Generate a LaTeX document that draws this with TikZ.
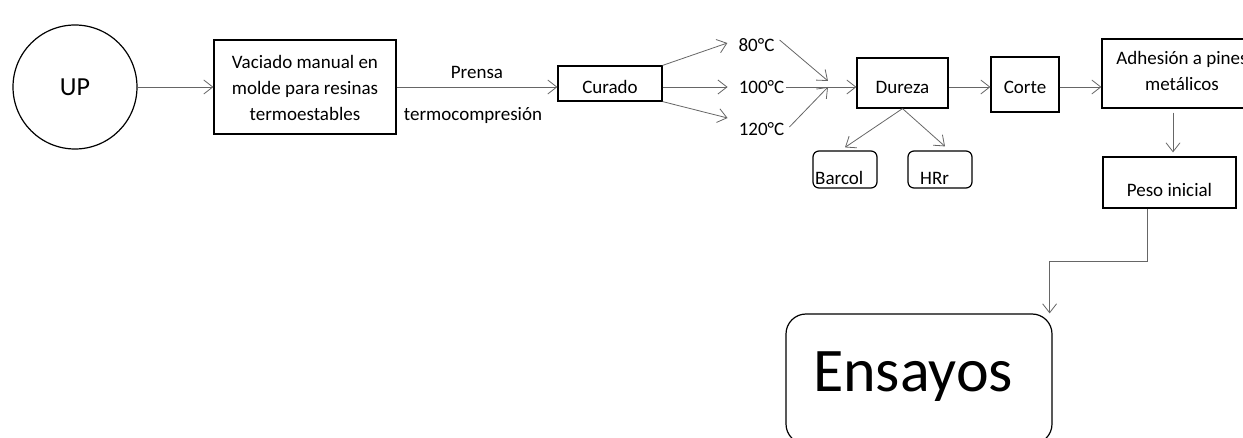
\documentclass[tikz,border=0pt]{standalone}
\usepackage{fontspec}
\setmainfont{Carlito}
\usetikzlibrary{arrows.meta}
\begin{document}
\begin{tikzpicture}[x=1pt,y=-1pt,
 box/.style={draw=black,line width=1.2pt,inner sep=0pt,font=\fontsize{19}{26}\selectfont,align=center},
 rbox/.style={box,rounded corners=6pt},
 lbl/.style={inner sep=0pt,font=\fontsize{19}{26}\selectfont,align=center},
 conn/.style={draw=black!60,line width=0.8pt,-{Straight Barb[length=9pt,width=14pt]}}]
\useasboundingbox (0,0) rectangle (1243,438);
\clip (0,0) rectangle (1243,438);
\node[circle,draw=black,line width=1.2pt,minimum size=124pt,inner sep=0pt,font=\fontsize{26}{30}\selectfont] (up) at (75,87) {UP};
\node[box,minimum width=182pt,minimum height=94pt] (vac) at (305,87) {};
\node[lbl] (vact) at (305,88) {Vaciado manual en\\molde para resinas\\termoestables};
\node[box,minimum width=104pt,minimum height=35pt] (cur) at (610,83.5) {};
\node[lbl] (curt) at (610,87) {Curado};
\node[lbl] (t80) at (756.5,45) {80°C};
\node[lbl] (t100) at (761.5,87) {100°C};
\node[lbl] (t120) at (761.5,129) {120°C};
\node[box,minimum width=91pt,minimum height=50pt] (dur) at (902.5,83) {};
\node[lbl] (durt) at (902.5,87) {Dureza};
\node[box,minimum width=68pt,minimum height=55pt] (cor) at (1025,84.5) {};
\node[lbl] (cort) at (1025,87) {Corte};
\node[box,minimum width=160pt,minimum height=69pt] (adh) at (1182,73.5) {};
\node[lbl] (adht) at (1182,71) {Adhesión a pines\\metálicos};
\node[box,minimum width=133pt,minimum height=51pt] (peso) at (1169.5,182.5) {};
\node[lbl] (pesot) at (1169.5,190) {Peso inicial};
\node[rbox,minimum width=64pt,minimum height=37pt] (bar) at (845,169.5) {};
\node[lbl,anchor=base west] (bart) at (815,185) {Barcol};
\node[rbox,minimum width=64pt,minimum height=37pt] (hrr) at (940,169.5) {};
\node[lbl,anchor=base west] (hrrt) at (920,185) {HRr};
\node[box,rounded corners=20pt,minimum width=266pt,minimum height=130pt] (ens) at (919,379) {};
\node[inner sep=0pt,font=\fontsize{62}{70}\selectfont] (enst) at (913,377) {Ensayos};
\node[lbl] (prensa) at (477,72) {Prensa};
\node[lbl] (termo) at (473,115) {termocompresión};
\coordinate (j1) at (828,81);
\coordinate (j2) at (828,87);
\draw[conn] (up.east) -- (vac.west);
\draw[conn] (vac.east) -- (vac.east -| cur.west);
\draw[conn] (cur.north east) -- ([xshift=-11pt,yshift=2pt]t80.west);
\draw[conn] (cur.east |- t100) -- ([xshift=-11pt]t100.west);
\draw[conn] (cur.south east) -- ([xshift=-11pt,yshift=11pt]t120.west);
\draw[conn] ([xshift=5pt,yshift=5pt]t80.east) -- (j1);
\draw[conn] ([xshift=2pt]t100.east) -- (t100.east -| dur.west);
\draw[conn] ([xshift=5pt,yshift=2pt]t120.east) -- (j2);
\draw[conn] (dur.east |- t100) -- (cor.west |- t100);
\draw[conn] (cor.east |- t100) -- (adh.west |- t100);
\draw[conn] (dur.south) -- ([yshift=3pt]bar.north);
\draw[conn] (dur.south) -- ([xshift=5pt,yshift=4pt]hrr.north);
\draw[conn] ([xshift=-9pt,yshift=-4pt]adh.south) -- ([xshift=3.5pt,yshift=4pt]peso.north);
\draw[conn] ([xshift=-22.5pt]peso.south) -- ++(0,53) -| ([xshift=-3pt]ens.north east);
\end{tikzpicture}
\end{document}
